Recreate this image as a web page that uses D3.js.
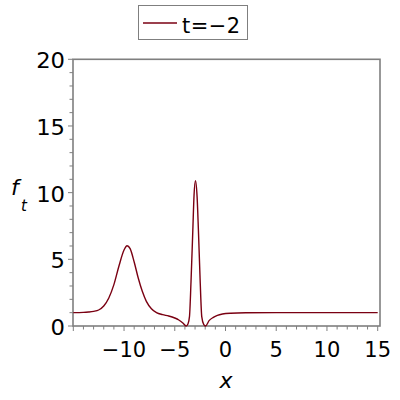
<!DOCTYPE html>
<html><head><meta charset="utf-8">
<script src="https://cdn.jsdelivr.net/npm/d3@7"></script>
<style>body{margin:0;background:#fff}svg{display:block}text{font-family:"DejaVu Sans",sans-serif}</style>
</head><body>
<script>
const xs = [-15,-14,-13.5,-13,-12.5,-12,-11.5,-11,-10.5,-10,-9.7,-9.4,-9,-8.6,-8.2,-7.8,-7.3,-6.8,-6.2,-5.6,-5,-4.6,-4.2,-3.88,-3.7,-3.55,-3.4,-3.22,-3.1,-2.96,-2.8,-2.67,-2.5,-2.34,-2.15,-1.97,-1.6,-1.2,-0.8,-0.3,0.5,2,5,10,15];
const ys = [1.0,1.02,1.05,1.1,1.2,1.5,2.1,3.1,4.5,5.7,6.02,5.8,4.8,3.6,2.6,1.85,1.3,1.0,0.85,0.75,0.6,0.45,0.22,0.0,0.15,0.7,3.3,7.2,9.8,10.9,9.7,7.2,3.45,0.7,0.12,0.0,0.42,0.65,0.8,0.9,0.96,0.99,1.0,1.0,1.0];
const xTicks = [-10,-5,0,5,10,15];
const yTicks = [0,5,10,15,20];
const legendLabel = "t=\u22122";
const color = "#7a0012";

const W=400,H=400;
const svg=d3.select("body").append("svg").attr("width",W).attr("height",H);
const x=d3.scaleLinear().domain([-15,15]).range([73.3,377.7]);
const y=d3.scaleLinear().domain([0,20]).range([326,59.3]);
const gray="#7f7f7f";

// frame
svg.append("rect").attr("x",73).attr("y",59.3).attr("width",380-73).attr("height",326-59.3)
  .attr("fill","none").attr("stroke",gray).attr("stroke-width",1.6);

// minor ticks
const xMinor=d3.range(-15,16,1), yMinor=d3.range(0,21,1);
svg.append("g").selectAll("line").data(xMinor).join("line")
  .attr("x1",d=>x(d)).attr("x2",d=>x(d)).attr("y1",326).attr("y2",d=>d%5===0?331:329.5)
  .attr("stroke",gray).attr("stroke-width",1);
svg.append("g").selectAll("line").data(yMinor).join("line")
  .attr("y1",d=>y(d)).attr("y2",d=>y(d)).attr("x1",73).attr("x2",d=>d%5===0?68:69.5)
  .attr("stroke",gray).attr("stroke-width",1);

// tick labels
const fmt=d=>d<0?"\u2212"+Math.abs(d):String(d);
svg.append("g").selectAll("text").data(xTicks).join("text")
  .attr("x",d=>x(d)).attr("y",357).attr("text-anchor","middle").attr("font-size",21)
  .attr("fill","#000").text(fmt);
svg.append("g").selectAll("text").data(yTicks).join("text")
  .attr("x",65).attr("y",d=>y(d)+9).attr("text-anchor","end").attr("font-size",21)
  .attr("transform",`translate(65,0) scale(1.08,1) translate(-65,0)`)
  .attr("fill","#000").text(fmt);

// axis labels
svg.append("text").attr("x",226).attr("y",388).attr("text-anchor","middle")
  .attr("font-size",22).attr("font-style","italic").text("x");
svg.append("text").attr("x",11).attr("y",195).attr("font-size",22).attr("font-style","italic").text("f");
svg.append("text").attr("x",21).attr("y",211).attr("font-size",15).attr("font-style","italic").text("t");

// curve
const pts=xs.map((v,i)=>[v,ys[i]]);
svg.append("path").datum(pts)
  .attr("d",d3.line().x(d=>x(d[0])).y(d=>y(d[1])).curve(d3.curveMonotoneX))
  .attr("fill","none").attr("stroke",color).attr("stroke-width",1.4);

// legend
svg.append("rect").attr("x",138.5).attr("y",5.5).attr("width",109).attr("height",34)
  .attr("fill","#fff").attr("stroke",gray).attr("stroke-width",1);
svg.append("line").attr("x1",143).attr("x2",177).attr("y1",23).attr("y2",23)
  .attr("stroke",color).attr("stroke-width",1.4);
svg.append("text").attr("x",182).attr("y",33).attr("font-size",21)
  .attr("textLength",58).attr("lengthAdjust","spacing").text(legendLabel);
</script>
</body></html>
